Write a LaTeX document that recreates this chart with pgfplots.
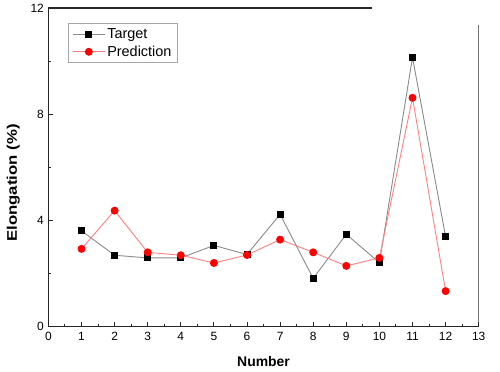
\documentclass[border=0pt]{standalone}
\usepackage{fontspec}
\setmainfont{Liberation Sans}
\newfontfamily\ylfont[FakeStretch=1.2]{Liberation Sans}
\usepackage{pgfplots}
\pgfplotsset{compat=1.18}
\definecolor{tgline}{HTML}{8A8A8A}
\definecolor{prline}{HTML}{FF8080}
\begin{document}
\begin{tikzpicture}
\begin{axis}[name=a, scale only axis, width=430.3bp, height=318.7bp,
  xmin=0, xmax=13, ymin=0, ymax=12,
  axis lines*=left,
  axis line style={line width=1.2bp, black!85},
  xtick={0,...,13}, ytick={0,4,8,12},
  minor x tick num=1, minor y tick num=1,
  tick align=inside, major tick length=5bp, minor tick length=3bp,
  tick style={line width=1bp, black!85},
  /pgf/number format/assume math mode=true,
  ticklabel style={font=\fontsize{12}{14}\selectfont},
  xticklabel style={yshift=-2bp},
  yticklabel style={xshift=-1bp},
  every axis x label/.style={at={(rel axis cs:0.5,-0.124)}, anchor=base},
  every axis y label/.style={at={(rel axis cs:-0.0813,0.451)}, rotate=90, anchor=center},
  xlabel={\bfseries Number},
  xlabel style={font=\fontsize{14}{16}\selectfont},
  ylabel={Elongation (\%)},
  ylabel style={font=\ylfont\fontsize{14}{16}\selectfont\bfseries},
  legend style={at={(0.0455,0.953)}, anchor=north west, draw=gray!70, line width=0.8bp,
    font=\fontsize{14.5}{17}\selectfont, inner xsep=4bp, inner ysep=3bp, row sep=2bp},
  legend cell align=left,
  legend image code/.code={\draw[mark repeat=2,mark phase=2,#1] plot coordinates {(0bp,0bp) (16bp,0bp) (32bp,0bp)};},
]
\addplot[tgline, line width=0.9bp, mark=square*, mark size=3bp, mark options={black, fill=black, solid}]
  coordinates {(1,3.61) (2,2.69) (3,2.59) (4,2.59) (5,3.06) (6,2.72) (7,4.23) (8,1.82) (9,3.48) (10,2.41) (11,10.14) (12,3.39)};
\addlegendentry{Target}
\addplot[prline, line width=0.9bp, mark=*, mark size=3.5bp, mark options={red, fill=red, solid}]
  coordinates {(1,2.93) (2,4.37) (3,2.80) (4,2.69) (5,2.40) (6,2.70) (7,3.28) (8,2.80) (9,2.29) (10,2.59) (11,8.62) (12,1.34)};
\addlegendentry{Prediction}
\draw[line width=1.2bp, black!85] (axis cs:0,12) -- (axis cs:9.78,12);
\draw[line width=1.2bp, black!85] (axis cs:13,0) -- (axis cs:13,11.36);
\end{axis}
\pgfresetboundingbox
\path ([shift={(-48.4bp,-45.3bp)}]a.south west) rectangle ([shift={(21.3bp,8bp)}]a.north east);
\end{tikzpicture}
\end{document}
